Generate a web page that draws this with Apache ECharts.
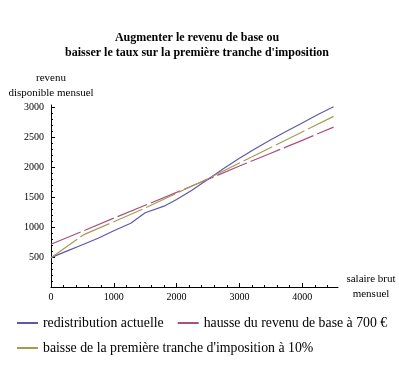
<!DOCTYPE html>
<html><head><meta charset="utf-8">
<script src="https://cdn.jsdelivr.net/npm/echarts@6/dist/echarts.min.js"></script>
<style>html,body{margin:0;padding:0;background:#fff}#c{width:399px;height:365px}</style>
</head><body><div id="c"></div>
<script>
const titleText = "Augmenter le revenu de base ou\nbaisser le taux sur la première tranche d'imposition";
const seriesNames = ["redistribution actuelle", "hausse du revenu de base à 700 €", "baisse de la première tranche d'imposition à 10%"];
const xTicks = [0, 1000, 2000, 3000, 4000];
const yTicks = [500, 1000, 1500, 2000, 2500, 3000];
const xMinorTicks = [200,400,600,800,1200,1400,1600,1800,2200,2400,2600,2800,3200,3400,3600,3800,4200,4400];
const yMinorTicks = [100,200,300,400,600,700,800,900,1100,1200,1300,1400,1600,1700,1800,1900,2100,2200,2300,2400,2600,2700,2800,2900];
// salaire brut -> revenu disponible
const actuelleX = [0,250,500,750,1000,1270,1500,1800,2000,2250,2500,2750,3000,3250,3500,3750,4000,4250,4500];
const actuelleY = [490,600,705,815,940,1065,1240,1350,1460,1620,1800,1980,2150,2310,2460,2600,2740,2880,3010];
const hausseX = [0,500,1000,1500,2000,2500,3000,3500,4000,4500];
const hausseY = [715,930,1150,1365,1580,1800,2020,2235,2450,2670];
const baisseX = [0,514,1000,1500,2000,2500,3000,3500,4000,4500];
const baisseY = [490,870,1090,1320,1565,1810,2070,2330,2590,2850];

const pair = (xs, ys) => xs.map((x, i) => [x, ys[i]]);
const serif = "Liberation Serif";
const chart = echarts.init(document.getElementById('c'));
const axisBase = {
  type: 'value', splitLine: {show: false},
  axisLine: {lineStyle: {color: '#000', width: 1}},
};
const legendBase = {itemWidth: 21, itemHeight: 12, itemGap: 13, orient: 'horizontal',
  itemStyle: {opacity: 0},
  textStyle: {fontFamily: serif, fontSize: 13.8, color: '#000'}};
chart.setOption({
  animation: false,
  textStyle: {fontFamily: serif},
  title: {text: titleText, left: 192, textAlign: 'center', top: 25,
    textStyle: {fontFamily: serif, fontWeight: 'bold', fontSize: 12, lineHeight: 15, color: '#000'}},
  grid: {left: 51, top: 105, width: 287, height: 182},
  xAxis: [
    Object.assign({}, axisBase, {min: 0, max: 4570,
      name: 'salaire brut\nmensuel', nameLocation: 'end', nameGap: 33,
      nameTextStyle: {fontFamily: serif, fontSize: 11, color: '#000', align: 'center', verticalAlign: 'middle', lineHeight: 15},
      axisTick: {inside: true, length: 4, customValues: xTicks, lineStyle: {color: '#000'}},
      axisLabel: {customValues: xTicks, formatter: v => String(v), fontFamily: serif, fontSize: 10, color: '#000', margin: 5}}),
    Object.assign({}, axisBase, {min: 0, max: 4570, position: 'bottom',
      axisLine: {show: false}, axisLabel: {show: false},
      axisTick: {inside: true, length: 2, customValues: xMinorTicks, lineStyle: {color: '#000'}}})
  ],
  yAxis: [
    Object.assign({}, axisBase, {min: 0, max: 3040,
      name: 'revenu\ndisponible mensuel', nameLocation: 'end', nameGap: 4,
      nameTextStyle: {fontFamily: serif, fontSize: 11, color: '#000', lineHeight: 15, align: 'center'},
      axisTick: {inside: true, length: 4, customValues: yTicks, lineStyle: {color: '#000'}},
      axisLabel: {customValues: yTicks, formatter: v => String(v), fontFamily: serif, fontSize: 10, color: '#000', margin: 7}}),
    Object.assign({}, axisBase, {min: 0, max: 3040, position: 'left',
      axisLine: {show: false}, axisLabel: {show: false},
      axisTick: {inside: true, length: 2, customValues: yMinorTicks, lineStyle: {color: '#000'}}})
  ],
  legend: [
    Object.assign({}, legendBase, {left: 11, top: 311, data: [seriesNames[0], seriesNames[1]]}),
    Object.assign({}, legendBase, {left: 11, top: 336, data: [seriesNames[2]]})
  ],
  series: [
    {name: seriesNames[0], type: 'line', symbol: 'none', data: pair(actuelleX, actuelleY),
      color: '#5a5aaa', lineStyle: {width: 1.2, color: '#5a5aaa'}},
    {name: seriesNames[1], type: 'line', symbol: 'none', data: pair(hausseX, hausseY),
      color: '#a8507f', lineStyle: {width: 1.2, color: '#a8507f', type: [32, 4]}},
    {name: seriesNames[2], type: 'line', symbol: 'none', data: pair(baisseX, baisseY),
      color: '#a89a55', lineStyle: {width: 1.2, color: '#a89a55', type: [32, 4]}}
  ]
});
</script></body></html>
